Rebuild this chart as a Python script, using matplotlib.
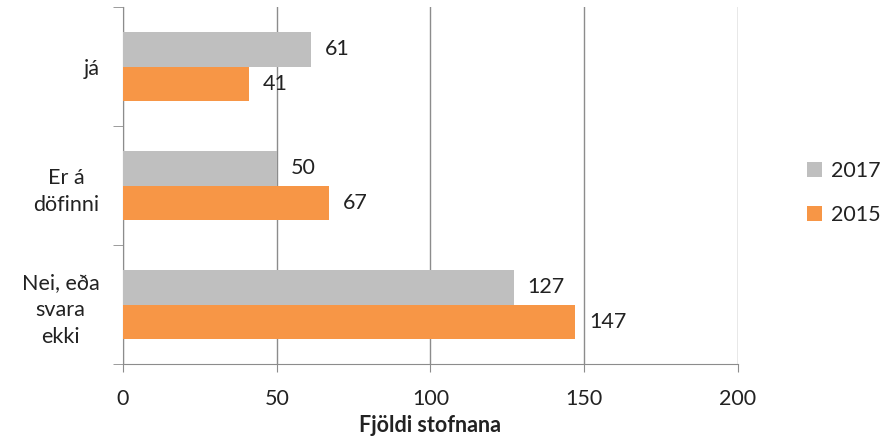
import matplotlib
matplotlib.use("Agg")
import matplotlib.pyplot as plt
import numpy as np

categories = ["já", "Er á\ndöfinni", "Nei, eða\nsvara\nekki"]
series_names = ["2017", "2015"]
values_2017 = [61, 50, 127]
values_2015 = [41, 67, 147]
xticks = [0, 50, 100, 150, 200]

plt.rcParams['font.family'] = ['Lato', 'DejaVu Sans']
text_color = "#222222"
gray = "#BFBFBF"
orange = "#F79646"
grid_color = "#8C8C8C"
fs = 15.5

fig = plt.figure(figsize=(8.84, 4.4), dpi=100)
ax = fig.add_axes([123/884, 76/440, (738-123)/884, (364-7)/440])

y = np.arange(len(categories))
h = 0.286
b1 = ax.barh(y - h/2, values_2017, height=h, color=gray, label=series_names[0], zorder=3)
b2 = ax.barh(y + h/2, values_2015, height=h, color=orange, label=series_names[1], zorder=3)

for bars, vals in ((b1, values_2017), (b2, values_2015)):
    for bar, v in zip(bars, vals):
        ax.annotate(str(v), (v, bar.get_y() + bar.get_height()/2), xytext=(14, 0),
                    textcoords="offset pixels",
                    va="center", ha="left", fontsize=fs, color=text_color, zorder=4)

ax.set_ylim(2.5, -0.5)
ax.set_xlim(0, 200)
ax.set_xticks(xticks)
ax.set_xticklabels([str(t) for t in xticks], fontsize=fs, color=text_color)
ax.set_yticks(y)
ax.set_yticklabels(categories, fontsize=fs, color=text_color, ha="right",
                   multialignment="center", linespacing=1.45)
ax.tick_params(axis="y", length=0, pad=17)
ax.tick_params(axis="x", length=6, color=grid_color, pad=12)
ax.set_yticks([-0.5, 0.5, 1.5, 2.5], minor=True)
ax.tick_params(axis="y", which="minor", length=7, color=grid_color)

ax.grid(axis="x", color=grid_color, linewidth=1, zorder=0)
for s in ["top", "right"]:
    ax.spines[s].set_visible(False)
for s in ["left", "bottom"]:
    ax.spines[s].set_color(grid_color)

ax.set_xlabel("Fjöldi stofnana", fontsize=fs, fontweight="bold", color=text_color, labelpad=4)

leg = fig.legend(handles=[b1, b2], labels=series_names, loc="center left",
                 bbox_to_anchor=(788/884, 1 - 193/440), frameon=False, fontsize=fs,
                 handlelength=0.7, handleheight=0.7, handletextpad=0.4, labelspacing=1.1)
for t in leg.get_texts():
    t.set_color(text_color)

fig.savefig("out.png", dpi=100)
